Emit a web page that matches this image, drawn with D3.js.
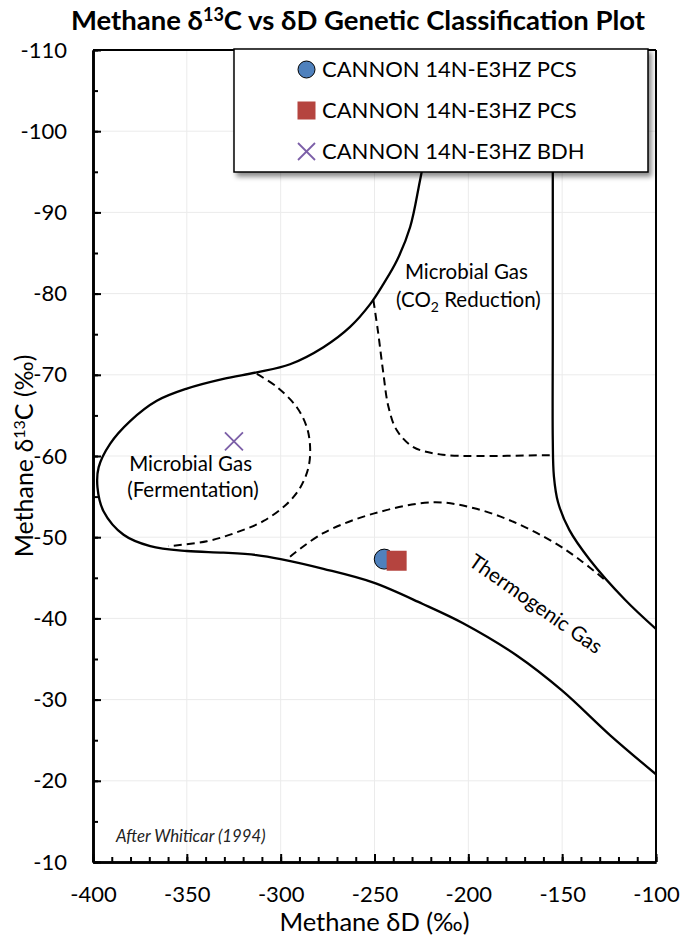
<!DOCTYPE html>
<html>
<head>
<meta charset="utf-8">
<script src="https://cdn.jsdelivr.net/npm/d3@7"></script>
<style>
  body { margin: 0; background: white; }
  svg text { font-family: Lato, "Open Sans", sans-serif; fill: #000; }
</style>
</head>
<body>
<div id="chart"></div>
<script>
// sample points, [dD, d13C]
const pcs_circle = [[-244.8, -47.3]];
const pcs_square = [[-238.2, -47.1]];
const bdh_cross = [[-324.9, -61.8]];

const legend_labels = ["CANNON 14N-E3HZ PCS", "CANNON 14N-E3HZ PCS", "CANNON 14N-E3HZ BDH"];

// Whiticar (1994) field boundaries, traced as [dD, d13C]
const outer_boundary = [
  [-219, -102], [-225.7, -94.0], [-231, -88.2], [-238, -84.1], [-245.2, -81.2],
  [-252.3, -78.7], [-263, -75.9], [-277.2, -73.4], [-295, -71.3], [-312.7, -70.3],
  [-330.5, -69.5], [-350, -68.3], [-366, -66.8], [-380.2, -64.3], [-390.9, -61.5],
  [-397, -58.6], [-397.6, -56.1], [-394.4, -53.2], [-383.7, -50.3], [-369.5, -48.9],
  [-350, -48.3], [-330.5, -48.1], [-313, -47.8], [-300, -47.3], [-277.2, -46.1],
  [-250.5, -44.4], [-224.5, -41.8], [-202.8, -39.4], [-174, -35.4], [-150, -31.1],
  [-124.4, -25.6], [-100, -20.8]
];
const right_boundary = [
  [-155, -110], [-155, -75], [-155, -62], [-154.4, -57.5], [-152.2, -54.3],
  [-146.2, -50.9], [-135.2, -47.2], [-116.5, -42.3], [-100, -38.7]
];
const fermentation_boundary = [
  [-312.7, -70.1], [-302, -68.5], [-291.4, -66.0], [-286, -63.5], [-284.3, -61.0],
  [-285.2, -58.6], [-289.6, -56.1], [-296.7, -54.1], [-309.1, -52.0], [-323.4, -50.6],
  [-339.3, -49.5], [-359.8, -48.9]
];
const co2_boundary = [
  [-250.6, -79.2], [-248, -75.1], [-245.3, -70.2], [-242.6, -66.1], [-238.2, -63.2],
  [-229.3, -61.1], [-215.1, -60.2], [-193.8, -60.0], [-160, -60.1], [-155.5, -60.1]
];
const thermogenic_boundary = [
  [-295, -47.6], [-277.3, -50.5], [-250.6, -52.9], [-218.7, -54.3], [-197.4, -53.6],
  [-176, -51.9], [-154.7, -49.4], [-140.5, -47.2], [-127.5, -44.8]
];

const x_ticks = d3.range(-400, -99, 50);
const x_minor = d3.range(-400, -99, 10);
const y_ticks = d3.range(-110, -9, 10);
const y_minor = d3.range(-110, -9, 5);

const chart_w = 697, chart_h = 943;
const p_left = 93, p_right = 656, p_top = 50, p_bottom = 862;

const svg = d3.select("#chart").append("svg")
  .attr("width", chart_w)
  .attr("height", chart_h);

const defs = svg.append("defs");
defs.append("clipPath").attr("id", "plot-clip")
  .append("rect")
  .attr("x", p_left).attr("y", p_top)
  .attr("width", p_right - p_left).attr("height", p_bottom - p_top);
defs.append("filter").attr("id", "shadow")
  .attr("x", "-10%").attr("y", "-10%").attr("width", "130%").attr("height", "140%")
  .append("feDropShadow")
  .attr("dx", 3).attr("dy", 4).attr("stdDeviation", 2.5)
  .attr("flood-color", "#000").attr("flood-opacity", 0.45);

const x = d3.scaleLinear().domain([-400, -100]).range([p_left, p_right]);
const y = d3.scaleLinear().domain([-110, -10]).range([p_top, p_bottom]);

// title
const title = svg.append("text")
  .attr("x", 358).attr("y", 30)
  .attr("text-anchor", "middle")
  .style("font-size", "27.5px").style("font-weight", "bold");
title.append("tspan").text("Methane δ");
title.append("tspan").attr("dy", -9).style("font-size", "18px").text("13");
title.append("tspan").attr("dy", 9).text("C vs δD Genetic Classification Plot");

// gridlines
const grid = svg.append("g").attr("stroke", "#ebebeb").attr("stroke-width", 1);
grid.selectAll("line.gx").data(x_ticks.slice(1, -1)).join("line")
  .attr("x1", d => x(d)).attr("x2", d => x(d))
  .attr("y1", p_top).attr("y2", p_bottom);
grid.selectAll("line.gy").data(y_ticks.slice(1, -1)).join("line")
  .attr("x1", p_left).attr("x2", p_right)
  .attr("y1", d => y(d)).attr("y2", d => y(d));

// boundaries
const line = d3.line().x(d => x(d[0])).y(d => y(d[1]))
  .curve(d3.curveCatmullRom.alpha(0.5));
const fields = svg.append("g").attr("clip-path", "url(#plot-clip)")
  .attr("fill", "none").attr("stroke", "#000");

[outer_boundary, right_boundary].forEach(b => {
  fields.append("path")
    .attr("d", line(b))
    .attr("stroke-width", 2.3);
});
[fermentation_boundary, co2_boundary, thermogenic_boundary].forEach(b => {
  fields.append("path")
    .attr("d", line(b))
    .attr("stroke-width", 2)
    .attr("stroke-dasharray", "8,5");
});

// axes
svg.append("line")
  .attr("x1", p_left).attr("x2", p_right).attr("y1", p_top).attr("y2", p_top)
  .attr("stroke", "#000").attr("stroke-width", 2);
svg.append("line")
  .attr("x1", p_right).attr("x2", p_right).attr("y1", p_top).attr("y2", p_bottom)
  .attr("stroke", "#000").attr("stroke-width", 2);

const fmt = d => String(d);
const xAxis = svg.append("g").attr("transform", `translate(0,${p_bottom})`)
  .call(d3.axisBottom(x).tickValues(x_ticks).tickFormat(fmt)
    .tickSizeInner(-8).tickSizeOuter(0).tickPadding(24));
const xMinor = svg.append("g").attr("transform", `translate(0,${p_bottom})`)
  .call(d3.axisBottom(x).tickValues(x_minor).tickSizeInner(-5).tickSizeOuter(0).tickFormat(""));
const yAxis = svg.append("g").attr("transform", `translate(${p_left},0)`)
  .call(d3.axisLeft(y).tickValues(y_ticks).tickFormat(fmt)
    .tickSizeInner(-8).tickSizeOuter(0).tickPadding(26));
const yMinor = svg.append("g").attr("transform", `translate(${p_left},0)`)
  .call(d3.axisLeft(y).tickValues(y_minor).tickSizeInner(-5).tickSizeOuter(0).tickFormat(""));

[xAxis, xMinor, yAxis, yMinor].forEach(a => {
  a.select(".domain").attr("stroke", "#000").attr("stroke-width", 2.6);
  a.selectAll(".tick line").attr("stroke", "#000").attr("stroke-width", 2);
  a.selectAll(".tick text")
    .style("font-family", "Lato, sans-serif").style("font-size", "22px");
});

// axis titles
svg.append("text")
  .attr("x", (p_left + p_right) / 2).attr("y", 931)
  .attr("text-anchor", "middle").style("font-size", "25.5px")
  .text("Methane δD (‰)");

const ylab = svg.append("text")
  .attr("transform", `translate(33,${(p_top + p_bottom) / 2}) rotate(-90)`)
  .attr("text-anchor", "middle").style("font-size", "25px");
ylab.append("tspan").text("Methane  δ");
ylab.append("tspan").attr("dy", -8).style("font-size", "16px").text("13");
ylab.append("tspan").attr("dy", 8).text("C (‰)");

// field labels
const lab = svg.append("g").style("font-size", "20.5px").attr("text-anchor", "middle");
lab.append("text").attr("x", x(-201)).attr("y", y(-81.8)).text("Microbial Gas");
const co2 = lab.append("text").attr("x", x(-200)).attr("y", y(-78.4));
co2.append("tspan").text("(CO");
co2.append("tspan").attr("dy", 5).style("font-size", "14px").text("2");
co2.append("tspan").attr("dy", -5).text(" Reduction)");
lab.append("text").attr("x", x(-348)).attr("y", y(-58.1)).text("Microbial Gas");
lab.append("text").attr("x", x(-346.7)).attr("y", y(-54.9)).text("(Fermentation)");
lab.append("text")
  .attr("transform", `translate(${x(-164)},${y(-41.8)}) rotate(35)`)
  .attr("dy", "0.35em").text("Thermogenic Gas");

svg.append("text")
  .attr("x", 116).attr("y", 842)
  .style("font-size", "16.8px").style("font-style", "italic").style("fill", "#222")
  .text("After Whiticar (1994)");

// data points
svg.selectAll("circle.pcs").data(pcs_circle).join("circle")
  .attr("cx", d => x(d[0])).attr("cy", d => y(d[1])).attr("r", 10)
  .attr("fill", "#4f81bd").attr("stroke", "#000").attr("stroke-width", 1);
svg.selectAll("rect.pcs").data(pcs_square).join("rect")
  .attr("x", d => x(d[0]) - 10).attr("y", d => y(d[1]) - 10)
  .attr("width", 20).attr("height", 20)
  .attr("fill", "#b5443f");
const cross = svg.selectAll("g.bdh").data(bdh_cross).join("g")
  .attr("transform", d => `translate(${x(d[0])},${y(d[1])})`)
  .attr("stroke", "#7b5ea7").attr("stroke-width", 1.8);
cross.append("line").attr("x1", -9).attr("y1", -9).attr("x2", 9).attr("y2", 9);
cross.append("line").attr("x1", -9).attr("y1", 9).attr("x2", 9).attr("y2", -9);

// legend
const legend = svg.append("g").attr("transform", "translate(234,49)");
legend.append("rect")
  .attr("width", 414).attr("height", 123)
  .attr("fill", "#fff").attr("stroke", "#000").attr("stroke-width", 1.5)
  .attr("filter", "url(#shadow)");
const rows = legend.selectAll("g.row").data(legend_labels).join("g")
  .attr("transform", (d, i) => `translate(0,${20.5 + i * 41})`);
rows.append("text")
  .attr("x", 88).attr("dy", "0.36em")
  .style("font-size", "22px").text(d => d);
rows.filter((d, i) => i == 0).append("circle")
  .attr("cx", 72.5).attr("r", 8.5)
  .attr("fill", "#4f81bd").attr("stroke", "#000").attr("stroke-width", 1);
rows.filter((d, i) => i == 1).append("rect")
  .attr("x", 63.5).attr("y", -9).attr("width", 18).attr("height", 18)
  .attr("fill", "#b5443f");
const lx = rows.filter((d, i) => i == 2).append("g")
  .attr("transform", "translate(72.5,0)")
  .attr("stroke", "#7b5ea7").attr("stroke-width", 1.8);
lx.append("line").attr("x1", -8.5).attr("y1", -8.5).attr("x2", 8.5).attr("y2", 8.5);
lx.append("line").attr("x1", -8.5).attr("y1", 8.5).attr("x2", 8.5).attr("y2", -8.5);
</script>
</body>
</html>
